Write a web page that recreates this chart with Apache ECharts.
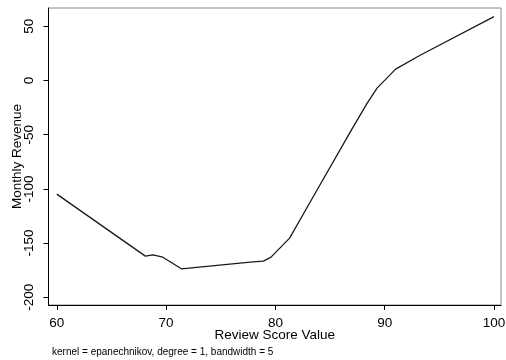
<!DOCTYPE html>
<html>
<head>
<meta charset="utf-8">
<script src="https://cdn.jsdelivr.net/npm/echarts@6/dist/echarts.min.js"></script>
<style>
html,body{margin:0;padding:0;background:#fff;}
#chart{width:506px;height:360px;}
</style>
</head>
<body>
<div id="chart"></div>
<script>
// Data
var reviewScore = [60, 68.1, 68.8, 69.7, 71.4, 77.7, 78.9, 79.6, 81.3, 83.3, 87.0, 88.4, 89.3, 91.0, 93.2, 100];
var monthlyRevenue = [-104.8, -162, -160.8, -163, -173.7, -167.5, -166.6, -162.9, -145.4, -110, -44.8, -20.8, -7, 10.5, 23.1, 59];
var xTicks = [60, 70, 80, 90, 100];
var yTicks = [-200, -150, -100, -50, 0, 50];
var xTitle = 'Review Score Value';
var yTitle = 'Monthly Revenue';
var noteText = 'kernel = epanechnikov, degree = 1, bandwidth = 5';

var points = reviewScore.map(function (x, i) { return [x, monthlyRevenue[i]]; });
var font = '"Liberation Sans", Arial, Helvetica, sans-serif';

var chart = echarts.init(document.getElementById('chart'), null, {renderer: 'canvas'});
chart.setOption({
  animation: false,
  backgroundColor: '#ffffff',
  grid: {
    left: 48.5, right: 5, top: 8, bottom: 55,
    containLabel: false, outerBoundsMode: 'none',
    show: true, borderColor: '#8a8a8a', borderWidth: 1, backgroundColor: 'transparent'
  },
  xAxis: {
    type: 'value', min: 59.24, max: 100.64,
    name: xTitle, nameLocation: 'middle', nameGap: 23, nameMoveOverlap: false,
    nameTextStyle: {fontFamily: font, fontSize: 13.5, color: '#000'},
    axisLine: {show: true, onZero: false, lineStyle: {color: '#000', width: 1}},
    axisTick: {show: true, length: 5, lineStyle: {color: '#000'}, customValues: xTicks},
    axisLabel: {customValues: xTicks, margin: 11, fontFamily: font, fontSize: 13.5, color: '#000'},
    splitLine: {show: false}
  },
  yAxis: {
    type: 'value', min: -207.1, max: 66.9,
    name: yTitle, nameLocation: 'middle', nameGap: 24.5, nameMoveOverlap: false,
    nameTextStyle: {fontFamily: font, fontSize: 13.5, color: '#000'},
    axisLine: {show: true, onZero: false, lineStyle: {color: '#000', width: 1}},
    axisTick: {show: true, length: 5, lineStyle: {color: '#000'}, customValues: yTicks},
    axisLabel: {customValues: yTicks, rotate: 90, margin: 12, fontFamily: font, fontSize: 13.5, color: '#000'},
    splitLine: {show: false}
  },
  graphic: [{
    type: 'text', left: 52, top: 347,
    style: {text: noteText, fontFamily: font, fontSize: 10, fill: '#000'}
  }],
  series: [{
    type: 'line', data: points, showSymbol: false, symbol: 'none',
    lineStyle: {color: '#1a1a1a', width: 1.3}
  }]
});
</script>
</body>
</html>
